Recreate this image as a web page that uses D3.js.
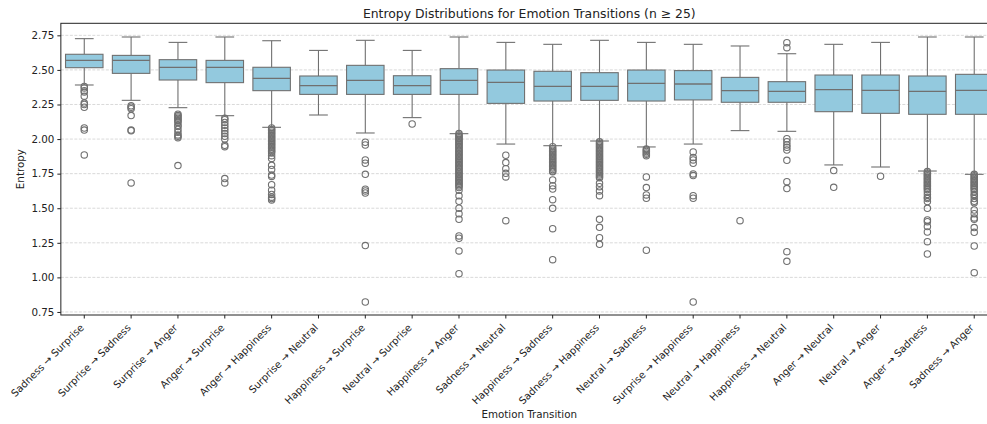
<!DOCTYPE html>
<html>
<head>
<meta charset="utf-8">
<script src="https://cdn.jsdelivr.net/npm/d3@7"></script>
<style>
  body { margin: 0; background: #fff; }
  svg { display: block; font-family: "DejaVu Sans", sans-serif; }
</style>
</head>
<body>
<div id="chart"></div>
<script>
// categories in plot order
const categories = [
    "Sadness → Surprise", "Surprise → Sadness", "Surprise → Anger", "Anger → Surprise",
    "Anger → Happiness", "Surprise → Neutral", "Happiness → Surprise", "Neutral → Surprise",
    "Happiness → Anger", "Sadness → Neutral", "Happiness → Sadness", "Sadness → Happiness",
    "Neutral → Sadness", "Surprise → Happiness", "Neutral → Happiness", "Happiness → Neutral",
    "Anger → Neutral", "Neutral → Anger", "Anger → Sadness", "Sadness → Anger"
];

// box statistics
const whiskerHigh = [2.726, 2.738, 2.699, 2.738, 2.711, 2.641, 2.714, 2.641, 2.738, 2.699,
                     2.685, 2.714, 2.699, 2.685, 2.673, 2.617, 2.685, 2.699, 2.738, 2.738];
const q3 =          [2.613, 2.605, 2.574, 2.569, 2.519, 2.456, 2.533, 2.458, 2.509, 2.499,
                     2.490, 2.480, 2.499, 2.495, 2.446, 2.415, 2.463, 2.463, 2.456, 2.468];
const median =      [2.569, 2.569, 2.519, 2.519, 2.439, 2.386, 2.425, 2.386, 2.425, 2.410,
                     2.381, 2.381, 2.403, 2.398, 2.350, 2.345, 2.357, 2.352, 2.345, 2.352];
const q1 =          [2.516, 2.475, 2.427, 2.408, 2.350, 2.323, 2.323, 2.323, 2.323, 2.258,
                     2.275, 2.280, 2.275, 2.283, 2.266, 2.266, 2.198, 2.186, 2.179, 2.179];
const whiskerLow =  [2.391, 2.280, 2.227, 2.169, 2.085, 2.174, 2.044, 2.155, 2.039, 1.964,
                     1.952, 1.986, 1.943, 1.964, 2.061, 2.056, 1.813, 1.798, 1.769, 1.745];

const outliers = [
    [2.38, 2.37, 2.35, 2.34, 2.31, 2.26, 2.25, 2.23, 2.08, 2.065, 1.885],
    [2.24, 2.23, 2.22, 2.17, 2.065, 2.06, 1.683],
    [2.18, 2.17, 2.16, 2.15, 2.14, 2.13, 2.12, 2.10, 2.09, 2.07, 2.05, 2.03, 2.02, 2.01, 1.808],
    [2.15, 2.14, 2.12, 2.10, 2.08, 2.06, 2.04, 2.02, 2.00, 1.955, 1.945, 1.714, 1.683],
    [2.08, 2.07, 2.06, 2.05, 2.04, 2.03, 2.02, 2.01, 2.00, 1.99, 1.98, 1.97, 1.96, 1.95, 1.94,
     1.93, 1.92, 1.91, 1.90, 1.88, 1.86, 1.81, 1.78, 1.74, 1.73, 1.67, 1.63, 1.60, 1.58, 1.57, 1.56],
    [],
    [1.977, 1.957, 1.849, 1.825, 1.745, 1.637, 1.625, 1.61, 1.23, 0.822],
    [2.109],
    [2.04, 2.03, 2.02, 2.01, 2.00, 1.99, 1.98, 1.97, 1.96, 1.95, 1.94, 1.93, 1.92, 1.91, 1.90,
     1.89, 1.88, 1.87, 1.86, 1.85, 1.84, 1.83, 1.82, 1.81, 1.80, 1.79, 1.78, 1.77, 1.76, 1.75,
     1.74, 1.73, 1.72, 1.71, 1.70, 1.69, 1.68, 1.67, 1.66, 1.65, 1.63, 1.59, 1.55, 1.50, 1.46,
     1.42, 1.30, 1.283, 1.191, 1.027],
    [1.883, 1.830, 1.786, 1.752, 1.726, 1.410],
    [1.945, 1.93, 1.92, 1.91, 1.90, 1.89, 1.88, 1.87, 1.86, 1.85, 1.84, 1.83, 1.82, 1.81, 1.80,
     1.79, 1.78, 1.77, 1.764, 1.704, 1.663, 1.639, 1.562, 1.499, 1.352, 1.128],
    [1.98, 1.97, 1.96, 1.95, 1.94, 1.93, 1.92, 1.91, 1.90, 1.89, 1.88, 1.87, 1.86, 1.85, 1.84,
     1.83, 1.82, 1.81, 1.80, 1.79, 1.78, 1.77, 1.76, 1.75, 1.74, 1.73, 1.72, 1.68, 1.656, 1.625,
     1.591, 1.42, 1.362, 1.287, 1.239],
    [1.928, 1.92, 1.91, 1.90, 1.89, 1.88, 1.726, 1.649, 1.596, 1.572, 1.196],
    [1.907, 1.866, 1.849, 1.825, 1.748, 1.736, 1.591, 1.572, 0.822],
    [1.410],
    [2.697, 2.661, 2.003, 1.981, 1.957, 1.94, 1.921, 1.846, 1.692, 1.642, 1.186, 1.116],
    [1.772, 1.651],
    [1.731],
    [1.765, 1.755, 1.745, 1.735, 1.725, 1.715, 1.705, 1.695, 1.685, 1.675, 1.665, 1.655, 1.645,
     1.635, 1.62, 1.60, 1.58, 1.57, 1.548, 1.499, 1.415, 1.403, 1.367, 1.328, 1.258, 1.169],
    [1.745, 1.735, 1.725, 1.715, 1.705, 1.695, 1.685, 1.675, 1.665, 1.655, 1.645, 1.635, 1.62,
     1.60, 1.59, 1.57, 1.55, 1.54, 1.487, 1.46, 1.43, 1.42, 1.36, 1.326, 1.227, 1.034]
];

const yTicks = [0.75, 1.00, 1.25, 1.50, 1.75, 2.00, 2.25, 2.50, 2.75];

function makeChart() {
    const width = 987,
        height = 424,
        left = 60.85,
        top = 23.3,
        bottom = 315,
        step = 46.84,
        right = left + step * categories.length;

    const boxFill = '#93c9de',
        lineColor = '#707070',
        textColor = '#222';

    const svg = d3.select('#chart').append('svg')
        .attr('width', width)
        .attr('height', height);

    const x = d3.scaleBand()
        .domain(categories)
        .range([left, right])
        .padding(0);

    const y = d3.scaleLinear()
        .domain([0.728, 2.837])
        .range([bottom, top]);

    const bw = x.bandwidth() * 0.8;
    const cx = c => x(c) + x.bandwidth() / 2;

    // grid
    svg.append('g')
        .selectAll('line')
        .data(yTicks)
        .enter().append('line')
        .attr('x1', left).attr('x2', right)
        .attr('y1', d => y(d)).attr('y2', d => y(d))
        .attr('stroke', '#cfcfcf')
        .attr('stroke-width', 0.8)
        .attr('stroke-dasharray', '3,1.5');

    const rows = categories.map((c, i) => ({
        name: c, hi: whiskerHigh[i], q3: q3[i], med: median[i], q1: q1[i], lo: whiskerLow[i], out: outliers[i]
    }));

    const boxes = svg.append('g')
        .selectAll('g')
        .data(rows)
        .enter().append('g');

    // whiskers
    boxes.append('line')
        .attr('x1', d => cx(d.name)).attr('x2', d => cx(d.name))
        .attr('y1', d => y(d.hi)).attr('y2', d => y(d.q3))
        .attr('stroke', lineColor).attr('stroke-width', 1.1);
    boxes.append('line')
        .attr('x1', d => cx(d.name)).attr('x2', d => cx(d.name))
        .attr('y1', d => y(d.q1)).attr('y2', d => y(d.lo))
        .attr('stroke', lineColor).attr('stroke-width', 1.1);
    // caps
    boxes.selectAll('.cap')
        .data(d => [{ name: d.name, v: d.hi }, { name: d.name, v: d.lo }])
        .enter().append('line')
        .attr('class', 'cap')
        .attr('x1', d => cx(d.name) - bw / 4).attr('x2', d => cx(d.name) + bw / 4)
        .attr('y1', d => y(d.v)).attr('y2', d => y(d.v))
        .attr('stroke', lineColor).attr('stroke-width', 1.1);

    // box
    boxes.append('rect')
        .attr('x', d => cx(d.name) - bw / 2)
        .attr('width', bw)
        .attr('y', d => y(d.q3))
        .attr('height', d => y(d.q1) - y(d.q3))
        .attr('fill', boxFill)
        .attr('stroke', lineColor)
        .attr('stroke-width', 1.1);

    // median
    boxes.append('line')
        .attr('x1', d => cx(d.name) - bw / 2).attr('x2', d => cx(d.name) + bw / 2)
        .attr('y1', d => y(d.med)).attr('y2', d => y(d.med))
        .attr('stroke', lineColor).attr('stroke-width', 1.3);

    // fliers
    boxes.selectAll('circle')
        .data(d => d.out.map(v => ({ name: d.name, v: v })))
        .enter().append('circle')
        .attr('cx', d => cx(d.name))
        .attr('cy', d => y(d.v))
        .attr('r', 3.2)
        .attr('fill', 'none')
        .attr('stroke', lineColor)
        .attr('stroke-width', 1.1);

    // axes
    const yAxis = svg.append('g')
        .attr('transform', 'translate(' + left + ',0)')
        .call(d3.axisLeft(y).tickValues(yTicks).tickFormat(d3.format('.2f')).tickSize(3.5).tickPadding(3));
    yAxis.select('.domain').remove();
    yAxis.selectAll('text').attr('font-size', '10.3px').attr('fill', textColor)
        .attr('font-family', '"DejaVu Sans", sans-serif');
    yAxis.selectAll('line').attr('stroke', textColor);

    const xAxis = svg.append('g')
        .attr('transform', 'translate(0,' + bottom + ')')
        .call(d3.axisBottom(x).tickSize(3.5));
    xAxis.select('.domain').remove();
    xAxis.selectAll('line').attr('stroke', textColor);
    xAxis.selectAll('text')
        .attr('font-size', '10px')
        .attr('fill', textColor)
        .attr('font-family', '"DejaVu Sans", sans-serif')
        .attr('text-anchor', 'end')
        .attr('dy', '0.75em')
        .attr('y', 0)
        .attr('transform', 'translate(-5,8) rotate(-45)');

    // spines
    svg.append('rect')
        .attr('x', left).attr('y', top)
        .attr('width', right - left).attr('height', bottom - top)
        .attr('fill', 'none')
        .attr('stroke', textColor)
        .attr('stroke-width', 1);

    // labels
    svg.append('text')
        .attr('x', (left + right) / 2).attr('y', 18)
        .attr('text-anchor', 'middle')
        .attr('font-size', '12.4px')
        .attr('fill', textColor)
        .text('Entropy Distributions for Emotion Transitions (n ≥ 25)');

    svg.append('text')
        .attr('x', (left + right) / 2).attr('y', 418)
        .attr('text-anchor', 'middle')
        .attr('font-size', '10.3px')
        .attr('fill', textColor)
        .text('Emotion Transition');

    svg.append('text')
        .attr('transform', 'translate(24,' + (top + bottom) / 2 + ') rotate(-90)')
        .attr('text-anchor', 'middle')
        .attr('font-size', '10.3px')
        .attr('fill', textColor)
        .text('Entropy');
}

makeChart();
</script>
</body>
</html>
